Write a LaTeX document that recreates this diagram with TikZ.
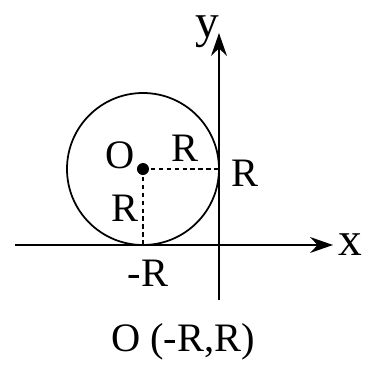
\documentclass[tikz,border=0pt]{standalone}
\usepackage{fontspec}
\setmainfont{Liberation Serif}
\usetikzlibrary{arrows.meta}

\begin{document}
\begin{tikzpicture}[x=0.02cm,y=0.02cm,line width=1pt,font=\fontsize{23}{27}\selectfont,
  axis/.style={-{Stealth[length=13pt,width=9pt]}},
  guide/.style={dash pattern=on 2.5pt off 2pt},
  axlabel/.style={font=\fontsize{27}{31}\selectfont,inner sep=1pt}]
\useasboundingbox (-219,-125) rectangle (150,245);
\coordinate (xl) at (-204,0);
\coordinate (xr) at (114,0);
\coordinate (yb) at (0,-55);
\coordinate (yt) at (0,212);
\coordinate (C) at (-76,76);
\coordinate (P) at (0,76);
\coordinate (Q) at (-76,0);
\draw[axis] (xl)--(xr);
\draw[axis] (yb)--(yt);
\draw (C) circle (76);
\draw[guide] (C)--(P);
\draw[guide] (C)--(Q);
\fill (C) circle (6);
\node[axlabel] (xlab) at (131,0) {x};
\node[axlabel] (ylab) at (-12,213) {y};
\node (olab) at (-99,90) {O};
\node (rtop) at (-34,97) {R};
\node (rright) at (26,72) {R};
\node (rleft) at (-94,37) {R};
\node (rneg) at (-71,-28) {-R};
\node (cap) at (-36,-97) {O (-R,R)};
\end{tikzpicture}
\end{document}
